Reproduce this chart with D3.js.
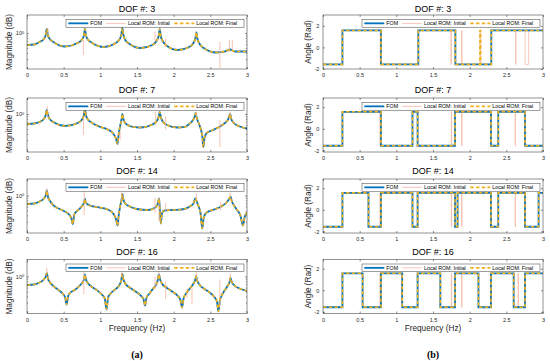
<!DOCTYPE html>
<html><head><meta charset="utf-8">
<script src="https://cdn.jsdelivr.net/npm/d3@7"></script>
<style>body{margin:0;background:#fff}svg{display:block}</style>
</head><body>
<svg id="c" width="550" height="361"></svg>
<script>
// ---------- data ----------
const dofs = [3, 7, 14, 16];
const freqTicks = [0, 0.5, 1, 1.5, 2, 2.5, 3];
const angleTicks = [-2, 0, 2];
const magMinorTicks = [0.2, 0.3, 0.4, 0.5, 0.6, 0.7, 0.8, 0.9, 2];
const seriesNames = ["FOM", "Local ROM: Initial", "Local ROM: Final"];
const magDomains = [[0.1905, 2.291], [0.1738, 2.089], [0.1778, 2.138], [0.182, 2.188]];
const angleDomains = [[-2, 3], [-2.15, 2.85], [-2.15, 2.85], [-2.15, 2.85]];

// magnitude, FOM (Local ROM: Final overlaps it)
const magFom3 = [[0,0.575],[0.1,0.589],[0.17,0.661],[0.23,0.759],[0.255,0.912],[0.27,1.202],[0.285,0.912],[0.31,0.759],[0.37,0.646],[0.52,0.537],[0.69,0.631],[0.75,0.741],[0.775,0.891],[0.79,1.202],[0.805,0.891],[0.83,0.741],[0.89,0.631],[1.05,0.525],[1.2,0.617],[1.26,0.741],[1.285,0.912],[1.3,1.259],[1.315,0.912],[1.34,0.724],[1.4,0.603],[1.55,0.501],[1.71,0.575],[1.77,0.708],[1.795,0.871],[1.81,1.202],[1.825,0.851],[1.85,0.692],[1.91,0.55],[2.06,0.457],[2.21,0.525],[2.27,0.631],[2.295,0.776],[2.31,1.023],[2.325,0.759],[2.35,0.617],[2.41,0.501],[2.58,0.407],[2.7,0.427],[2.77,0.468],[2.83,0.427],[3,0.427]];
const magFom7 = [[0,0.631],[0.1,0.646],[0.17,0.692],[0.23,0.794],[0.255,0.955],[0.27,1.202],[0.285,0.955],[0.31,0.794],[0.37,0.676],[0.52,0.575],[0.69,0.661],[0.75,0.776],[0.775,0.933],[0.79,1.202],[0.805,0.933],[0.83,0.776],[0.89,0.661],[1,0.55],[1.1,0.49],[1.18,0.398],[1.215,0.316],[1.235,0.251],[1.25,0.398],[1.27,0.575],[1.29,0.794],[1.3,1],[1.315,0.794],[1.34,0.661],[1.4,0.575],[1.45,0.55],[1.55,0.537],[1.71,0.617],[1.77,0.724],[1.795,0.871],[1.81,1.096],[1.825,0.871],[1.85,0.708],[1.91,0.603],[2.05,0.537],[2.15,0.55],[2.21,0.631],[2.265,0.759],[2.29,0.912],[2.3,1.047],[2.315,0.832],[2.34,0.661],[2.37,0.501],[2.39,0.363],[2.405,0.219],[2.42,0.331],[2.45,0.417],[2.52,0.468],[2.62,0.55],[2.7,0.661],[2.745,0.794],[2.77,1],[2.785,0.794],[2.82,0.661],[2.9,0.562],[3,0.513]];
const magFom14 = [[0,0.676],[0.1,0.692],[0.17,0.759],[0.23,0.871],[0.255,1],[0.27,1.259],[0.285,0.955],[0.31,0.794],[0.37,0.617],[0.49,0.501],[0.58,0.407],[0.605,0.347],[0.625,0.269],[0.645,0.417],[0.72,0.55],[0.76,0.646],[0.78,0.741],[0.79,0.851],[0.8,0.741],[0.83,0.661],[0.9,0.603],[1,0.575],[1.1,0.525],[1.18,0.427],[1.215,0.331],[1.235,0.251],[1.25,0.398],[1.27,0.603],[1.29,0.832],[1.3,1.072],[1.315,0.832],[1.34,0.692],[1.4,0.603],[1.5,0.537],[1.65,0.513],[1.75,0.575],[1.785,0.692],[1.8,0.871],[1.81,0.575],[1.825,0.275],[1.84,0.437],[1.87,0.501],[2,0.513],[2.15,0.537],[2.22,0.603],[2.27,0.692],[2.295,0.871],[2.31,0.794],[2.335,0.631],[2.365,0.457],[2.39,0.219],[2.41,0.363],[2.45,0.457],[2.55,0.525],[2.65,0.603],[2.72,0.724],[2.76,0.871],[2.775,0.955],[2.79,0.794],[2.85,0.55],[2.91,0.398],[2.945,0.251],[2.97,0.38],[3,0.457]];
const magFom16 = [[0,0.676],[0.1,0.692],[0.17,0.759],[0.23,0.871],[0.255,1],[0.27,1.175],[0.285,0.912],[0.31,0.776],[0.35,0.661],[0.43,0.537],[0.49,0.447],[0.52,0.38],[0.54,0.275],[0.56,0.398],[0.58,0.457],[0.66,0.55],[0.72,0.661],[0.76,0.776],[0.78,0.912],[0.79,1.096],[0.8,0.912],[0.82,0.776],[0.86,0.661],[0.95,0.537],[1.02,0.437],[1.06,0.363],[1.085,0.219],[1.105,0.38],[1.14,0.457],[1.2,0.55],[1.26,0.676],[1.285,0.832],[1.3,1.122],[1.315,0.871],[1.34,0.724],[1.4,0.603],[1.48,0.501],[1.55,0.417],[1.59,0.347],[1.61,0.263],[1.63,0.38],[1.67,0.457],[1.72,0.575],[1.775,0.759],[1.8,1.096],[1.815,0.871],[1.84,0.724],[1.9,0.603],[1.98,0.501],[2.05,0.417],[2.09,0.347],[2.115,0.24],[2.135,0.363],[2.17,0.457],[2.22,0.575],[2.27,0.724],[2.295,0.871],[2.305,1.023],[2.32,0.832],[2.35,0.692],[2.42,0.562],[2.5,0.468],[2.56,0.38],[2.59,0.316],[2.61,0.2],[2.63,0.331],[2.67,0.457],[2.73,0.631],[2.765,0.794],[2.775,0.933],[2.79,0.794],[2.83,0.661],[2.9,0.575],[3,0.513]];

// magnitude, Local ROM: Initial spurious spikes [freq, low, high]
const magInitSpikes3 = [[0.285,0.912,1.259],[0.77,0.363,0.724],[1.745,0.67,1.06],[1.89,0.53,0.78],[2.3,0.83,1.07],[2.63,0.2,0.67],[2.76,0.42,0.72],[2.8,0.42,0.72]];
const magInitSpikes7 = [[0.277,0.89,1.42],[0.77,0.38,0.89],[1.27,0.3,0.46],[1.755,0.61,1.13],[1.89,0.49,0.89],[2.31,0.8,1.1],[2.63,0.22,0.77],[2.77,0.8,1.1]];
const magInitSpikes14 = [[0.27,1,1.4],[0.78,0.4,1.3],[1.29,0.8,1.15],[1.745,0.44,0.89],[1.8,0.3,0.9],[1.89,0.5,0.72],[2.31,0.8,1.1],[2.64,0.5,0.75],[2.77,0.8,1.15]];
const magInitSpikes16 = [[0.27,1.1,1.5],[0.775,0.44,1.38],[1.29,0.97,1.38],[1.745,0.55,1],[1.8,0.95,1.3],[1.89,0.35,0.8],[2.18,0.38,0.57],[2.25,0.28,0.6],[2.31,0.9,1.2],[2.63,0.28,0.87],[2.77,0.9,1.15]];

// phase (rad), step points
const phaseFom3 = [[0,-1.571],[0.265,1.571],[0.79,-1.571],[1.3,1.571],[1.805,-1.571],[2.295,1.571],[3,1.571]];
const phaseFin3 = [[0,-1.571],[0.265,1.571],[0.79,-1.571],[1.3,1.571],[1.805,-1.571],[2.14,1.571],[2.15,-1.571],[2.295,1.571],[3,1.571]];
const phaseInit3 = [[0,-1.571],[0.265,1.571],[0.78,-1.571],[1.3,1.571],[1.745,-1.571],[1.75,1.571],[1.805,-1.571],[1.89,1.571],[1.895,-1.571],[2.14,1.571],[2.15,-1.571],[2.295,1.571],[2.625,-1.571],[2.63,1.571],[2.755,-1.571],[2.805,1.571],[3,1.571]];
const phaseFom7 = [[0,-1.571],[0.265,1.571],[0.79,-1.571],[1.22,1.571],[1.29,-1.571],[1.8,1.571],[2.29,-1.571],[2.39,1.571],[2.755,-1.571],[3,-1.571]];
const phaseInit7 = [[0,-1.571],[0.265,1.571],[0.775,-1.571],[1.22,1.571],[1.29,-1.571],[1.75,1.571],[1.755,-1.571],[1.8,1.571],[1.89,-1.571],[1.895,1.571],[2.29,-1.571],[2.39,1.571],[2.62,-1.571],[2.625,1.571],[2.755,-1.571],[3,-1.571]];
const phaseFom14 = [[0,-1.571],[0.265,1.571],[0.62,-1.571],[0.79,1.571],[1.22,-1.571],[1.29,1.571],[1.8,-1.571],[1.835,1.571],[2.29,-1.571],[2.39,1.571],[2.755,-1.571],[2.94,1.571],[3,1.571]];
const phaseInit14 = [[0,-1.571],[0.265,1.571],[0.62,-1.571],[0.775,1.571],[1.22,-1.571],[1.29,1.571],[1.75,-1.571],[1.755,1.571],[1.8,-1.571],[1.835,1.571],[1.89,-1.571],[1.895,1.571],[2.29,-1.571],[2.39,1.571],[2.62,-1.571],[2.625,1.571],[2.755,-1.571],[2.94,1.571],[3,1.571]];
const phaseFom16 = [[0,-1.571],[0.265,1.571],[0.54,-1.571],[0.79,1.571],[1.08,-1.571],[1.29,1.571],[1.6,-1.571],[1.8,1.571],[2.12,-1.571],[2.29,1.571],[2.6,-1.571],[2.755,1.571],[3,1.571]];
const phaseInit16 = [[0,-1.571],[0.265,1.571],[0.54,-1.571],[0.775,1.571],[1.08,-1.571],[1.29,1.571],[1.6,-1.571],[1.75,1.571],[1.755,-1.571],[1.8,1.571],[1.89,-1.571],[1.895,1.571],[2.12,-1.571],[2.29,1.571],[2.6,-1.571],[2.66,1.571],[2.665,-1.571],[2.755,1.571],[3,1.571]];

const magFomList = [magFom3, magFom7, magFom14, magFom16];
const magSpikeList = [magInitSpikes3, magInitSpikes7, magInitSpikes14, magInitSpikes16];
const phaseFomList = [phaseFom3, phaseFom7, phaseFom14, phaseFom16];
const phaseInitList = [phaseInit3, phaseInit7, phaseInit14, phaseInit16];
const phaseFinList = [phaseFin3, phaseFom7, phaseFom14, phaseFom16];

// ---------- layout / style ----------
const svg = d3.select("#c");
const panelTops = [15, 98, 179, 259.5];
const titleBase = [11.5, 92.5, 173.5, 254.5];
const PH = 54;
const cols = [{x0: 27, x1: 247}, {x0: 323, x1: 543}];
const C = {fom: "#0072BD", init: "#F6B7A4", fin: "#EDB120", axis: "#262626"};
const FONT = "Arial, 'Liberation Sans', Helvetica, sans-serif";

function styleAxis(g, size) {
  g.attr("font-family", FONT).attr("font-size", size);
  g.selectAll(".domain").remove();
  g.selectAll(".tick line").attr("stroke", C.axis).attr("stroke-width", 0.5);
  g.selectAll(".tick text").attr("fill", C.axis);
}

function legend(g, px1, top) {
  const bx = px1 - 181, by = top + 4.5, bw = 178, bh = 7.7, cy = by + bh / 2;
  g.append("rect").attr("x", bx).attr("y", by).attr("width", bw).attr("height", bh)
    .attr("fill", "#fff").attr("stroke", C.axis).attr("stroke-width", 0.45);
  const items = [
    {off: 2.3, name: seriesNames[0], c: C.fom, w: 1.8, dash: null},
    {off: 40, name: seriesNames[1], c: C.init, w: 0.8, dash: null},
    {off: 108.3, name: seriesNames[2], c: C.fin, w: 1.6, dash: "3.5,2.2"}
  ];
  items.forEach(it => {
    g.append("line").attr("x1", bx + it.off).attr("x2", bx + it.off + 20)
      .attr("y1", cy).attr("y2", cy).attr("stroke", it.c).attr("stroke-width", it.w)
      .attr("stroke-dasharray", it.dash);
    g.append("text").attr("x", bx + it.off + 22).attr("y", cy).attr("dy", "0.36em")
      .attr("font-family", FONT).attr("font-size", 5.3).attr("fill", "#000").text(it.name);
  });
}

function panel(i, side) {
  const top = panelTops[i], bot = top + PH, col = cols[side];
  const x = d3.scaleLinear().domain([0, 3]).range([col.x0, col.x1]);
  const y = side === 0
    ? d3.scaleLog().domain(magDomains[i]).range([bot, top])
    : d3.scaleLinear().domain(angleDomains[i]).range([bot, top]);
  const g = svg.append("g");
  const cid = "clip" + i + "_" + side;
  svg.append("defs").append("clipPath").attr("id", cid).append("rect")
    .attr("x", col.x0).attr("y", top).attr("width", col.x1 - col.x0).attr("height", PH);
  g.append("rect").attr("x", col.x0).attr("y", top).attr("width", col.x1 - col.x0)
    .attr("height", PH).attr("fill", "#fff");

  const plot = g.append("g").attr("clip-path", `url(#${cid})`);
  if (side === 0) {
    const line = d3.line().x(d => x(d[0])).y(d => y(d[1])).curve(d3.curveMonotoneX);
    const fom = magFomList[i];
    // initial (underneath), then FOM, spikes, final
    plot.append("path").datum(fom).attr("d", line).attr("fill", "none")
      .attr("stroke", C.init).attr("stroke-width", 0.5);
    plot.append("path").datum(fom).attr("d", line).attr("fill", "none")
      .attr("stroke", C.fom).attr("stroke-width", 1.8);
    plot.selectAll(".spk").data(magSpikeList[i]).join("line").attr("class", "spk")
      .attr("x1", d => x(d[0])).attr("x2", d => x(d[0]))
      .attr("y1", d => y(d[1])).attr("y2", d => y(d[2]))
      .attr("stroke", C.init).attr("stroke-width", 0.85);
    plot.append("path").datum(fom).attr("d", line).attr("fill", "none")
      .attr("stroke", C.fin).attr("stroke-width", 1.6).attr("stroke-dasharray", "3.5,2.2");
  } else {
    const line = d3.line().x(d => x(d[0])).y(d => y(d[1])).curve(d3.curveStepAfter);
    plot.append("path").datum(phaseInitList[i]).attr("d", line).attr("fill", "none")
      .attr("stroke", C.init).attr("stroke-width", 0.75);
    plot.append("path").datum(phaseFomList[i]).attr("d", line).attr("fill", "none")
      .attr("stroke", C.fom).attr("stroke-width", 1.8);
    plot.append("path").datum(phaseFinList[i]).attr("d", line).attr("fill", "none")
      .attr("stroke", C.fin).attr("stroke-width", 1.6).attr("stroke-dasharray", "3.5,2.2");
  }

  // frame
  g.append("rect").attr("x", col.x0).attr("y", top).attr("width", col.x1 - col.x0)
    .attr("height", PH).attr("fill", "none").attr("stroke", C.axis).attr("stroke-width", 0.5);

  // x axes
  const xb = g.append("g").attr("transform", `translate(0,${bot})`)
    .call(d3.axisBottom(x).tickValues(freqTicks).tickSize(-2).tickSizeOuter(0).tickPadding(4.2).tickFormat(d => String(d)));
  styleAxis(xb, 5.5);
  const xt = g.append("g").attr("transform", `translate(0,${top})`)
    .call(d3.axisTop(x).tickValues(freqTicks).tickSize(-2).tickSizeOuter(0).tickFormat(""));
  styleAxis(xt, 5.5);

  // y axes
  if (side === 0) {
    const yl = g.append("g").attr("transform", `translate(${col.x0},0)`)
      .call(d3.axisLeft(y).tickValues([1]).tickSize(-2).tickSizeOuter(0).tickPadding(4.5).tickFormat(""));
    styleAxis(yl, 5.5);
    const t = yl.select(".tick text");
    t.append("tspan").text("10");
    t.append("tspan").attr("dy", "-0.45em").attr("font-size", 3.8).text("0");
    t.attr("dx", "1.6");
    const yr = g.append("g").attr("transform", `translate(${col.x1},0)`)
      .call(d3.axisRight(y).tickValues([1]).tickSize(-2).tickSizeOuter(0).tickFormat(""));
    styleAxis(yr, 5.5);
    [["translate(" + col.x0 + ",0)", d3.axisLeft], ["translate(" + col.x1 + ",0)", d3.axisRight]].forEach(([tr, ax]) => {
      const m = g.append("g").attr("transform", tr)
        .call(ax(y).tickValues(magMinorTicks.filter(v => v >= magDomains[i][0] && v <= magDomains[i][1]))
          .tickSize(-1.1).tickSizeOuter(0).tickFormat(""));
      styleAxis(m, 5.5);
    });
  } else {
    const yl = g.append("g").attr("transform", `translate(${col.x0},0)`)
      .call(d3.axisLeft(y).tickValues(angleTicks).tickSize(-2).tickSizeOuter(0).tickPadding(3.6).tickFormat(d => String(d)));
    styleAxis(yl, 5.5);
    const yr = g.append("g").attr("transform", `translate(${col.x1},0)`)
      .call(d3.axisRight(y).tickValues(angleTicks).tickSize(-2).tickSizeOuter(0).tickFormat(""));
    styleAxis(yr, 5.5);
  }

  legend(g, col.x1, top);

  // title
  g.append("text").attr("x", (col.x0 + col.x1) / 2).attr("y", titleBase[i])
    .attr("text-anchor", "middle").attr("font-family", FONT).attr("font-size", 9)
    .attr("fill", "#000").text("DOF #: " + dofs[i]);

  // y label
  const lx = side === 0 ? 9.3 : 308.3, ly = (top + bot) / 2;
  g.append("text").attr("transform", `translate(${lx},${ly}) rotate(-90)`)
    .attr("text-anchor", "middle").attr("dy", "0.36em").attr("font-family", FONT)
    .attr("font-size", 8.2).attr("fill", C.axis)
    .text(side === 0 ? "Magnitude (dB)" : "Angle (Rad)");

  if (i === 3) {
    g.append("text").attr("x", (col.x0 + col.x1) / 2).attr("y", 331)
      .attr("text-anchor", "middle").attr("font-family", FONT).attr("font-size", 8.2)
      .attr("fill", C.axis).text("Frequency (Hz)");
  }
}

for (let i = 0; i < 4; i++) { panel(i, 0); panel(i, 1); }

svg.append("text").attr("x", 137).attr("y", 357.5).attr("text-anchor", "middle")
  .attr("font-family", "'Liberation Serif', 'DejaVu Serif', serif").attr("font-weight", "bold")
  .attr("font-size", 10).text("(a)");
svg.append("text").attr("x", 433).attr("y", 357.5).attr("text-anchor", "middle")
  .attr("font-family", "'Liberation Serif', 'DejaVu Serif', serif").attr("font-weight", "bold")
  .attr("font-size", 10).text("(b)");
</script>
</body></html>
